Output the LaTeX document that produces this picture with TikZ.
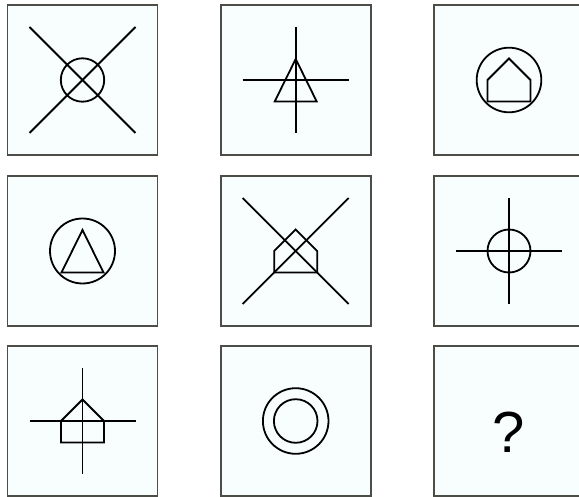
\documentclass[tikz,border=0pt]{standalone}
\usepackage{fontspec}
\setmainfont{Liberation Sans}
\definecolor{boxfill}{HTML}{F8FEFE}
\definecolor{boxedge}{HTML}{4C4D46}
\tikzset{
  cell/.style={draw=boxedge, line width=1.8pt, fill=boxfill, minimum width=150pt, minimum height=150pt, inner sep=0pt},
  fig/.style={draw=black, line width=1.8pt, line join=miter},
}
\newcommand{\xcross}[1]{\draw[fig] ($(#1)+(-53,-53)$) -- ($(#1)+(53,53)$); \draw[fig] ($(#1)+(-53,53)$) -- ($(#1)+(53,-53)$);}
\newcommand{\pcross}[1]{\draw[fig] ($(#1)+(0,-53)$) -- ($(#1)+(0,53)$); \draw[fig] ($(#1)+(-53,0)$) -- ($(#1)+(53,0)$);}
\newcommand{\tri}[1]{\draw[fig] ($(#1)+(0,-21)$) -- ($(#1)+(21,21.5)$) -- ($(#1)+(-21,21.5)$) -- cycle;}
\newcommand{\house}[1]{\draw[fig] ($(#1)+(0,-21.5)$) -- ($(#1)+(21.5,0)$) -- ($(#1)+(21.5,21.5)$) -- ($(#1)+(-21.5,21.5)$) -- ($(#1)+(-21.5,0)$) -- cycle;}
\usetikzlibrary{calc}
\begin{document}
\begin{tikzpicture}[x=1pt,y=-1pt]
\useasboundingbox (0,0) rectangle (579,497);
\clip (0,0) rectangle (579,497);
\node[cell] (c11) at (82.5,80) {};
\node[cell] (c12) at (295.7,80) {};
\node[cell] (c13) at (509,80) {};
\node[cell] (c21) at (82.5,251) {};
\node[cell] (c22) at (295.7,251) {};
\node[cell] (c23) at (509,251) {};
\node[cell] (c31) at (82.5,421) {};
\node[cell] (c32) at (295.7,421) {};
\node[cell] (c33) at (509,421) {};
% row 1
\xcross{c11}
\draw[fig] (c11) circle[radius=21.7];
\pcross{c12}
\tri{c12}
\draw[fig] (c13) circle[radius=32.3];
\house{c13}
% row 2
\draw[fig] (c21) circle[radius=32.5];
\tri{c21}
\xcross{c22}
\house{c22}
\pcross{c23}
\draw[fig] (c23) circle[radius=21.5];
% row 3
\pcross{c31}
\house{c31}
\draw[fig] (c32) circle[radius=32.8];
\draw[fig] (c32) circle[radius=21.8];
\node[anchor=base, font=\fontsize{58}{60}\selectfont, inner sep=0pt] (q) at (509,453) {?};
\end{tikzpicture}
\end{document}
